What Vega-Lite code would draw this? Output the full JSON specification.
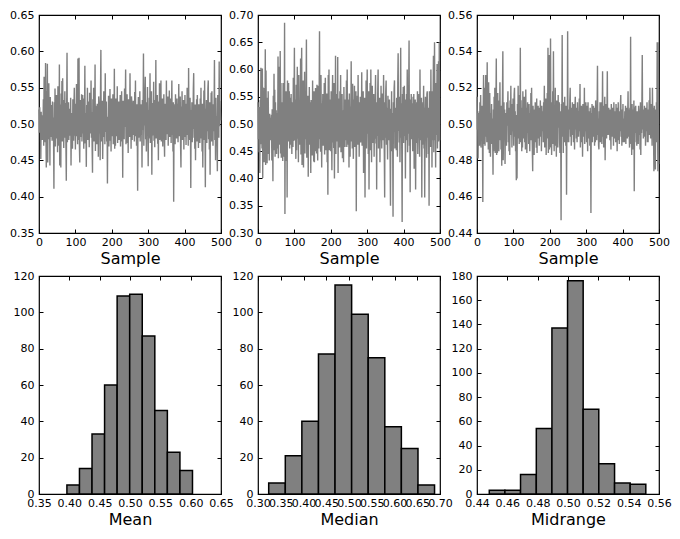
{
"$schema": "https://vega.github.io/schema/vega-lite/v6.json",
"background": "white",
"padding": {"left": 8, "top": 8, "right": 5, "bottom": 5},
"config": {
  "view": {"stroke": "black", "strokeWidth": 1.2},
  "axis": {"grid": false, "domain": false, "tickColor": "black", "tickSize": -4, "tickWidth": 1, "labelColor": "black", "labelFont": "DejaVu Sans", "labelFontSize": 11, "labelPadding": 9, "labelOverlap": false, "labelFlush": false, "labelBound": false, "titleFont": "DejaVu Sans", "titleFontSize": 16, "titleFontWeight": "normal", "titleColor": "black", "titlePadding": 4},
  "axisX": {"labelPadding": 7, "titlePadding": 3}
},
"datasets": {
"hm": [{"lo":0.396,"hi":0.4167,"n":5},{"lo":0.4167,"hi":0.4374,"n":14},{"lo":0.4374,"hi":0.4581,"n":33},{"lo":0.4581,"hi":0.4788,"n":60},{"lo":0.4788,"hi":0.4995,"n":109},{"lo":0.4995,"hi":0.5202,"n":110},{"lo":0.5202,"hi":0.5409,"n":87},{"lo":0.5409,"hi":0.5616,"n":46},{"lo":0.5616,"hi":0.5823,"n":23},{"lo":0.5823,"hi":0.603,"n":13}],
"hd": [{"lo":0.3235,"hi":0.36,"n":6},{"lo":0.36,"hi":0.3964,"n":21},{"lo":0.3964,"hi":0.4329,"n":40},{"lo":0.4329,"hi":0.4693,"n":77},{"lo":0.4693,"hi":0.5058,"n":115},{"lo":0.5058,"hi":0.5422,"n":99},{"lo":0.5422,"hi":0.5787,"n":75},{"lo":0.5787,"hi":0.6151,"n":37},{"lo":0.6151,"hi":0.6516,"n":25},{"lo":0.6516,"hi":0.688,"n":5}],
"hr": [{"lo":0.4481,"hi":0.4584,"n":3},{"lo":0.4584,"hi":0.4687,"n":3},{"lo":0.4687,"hi":0.4791,"n":16},{"lo":0.4791,"hi":0.4894,"n":54},{"lo":0.4894,"hi":0.4997,"n":137},{"lo":0.4997,"hi":0.51,"n":176},{"lo":0.51,"hi":0.5203,"n":70},{"lo":0.5203,"hi":0.5307,"n":25},{"lo":0.5307,"hi":0.541,"n":9},{"lo":0.541,"hi":0.5513,"n":8}],
"s": [
{"i":0,"a":0.520,"b":0.540,"c":0.515},{"i":1,"a":0.488,"b":0.472,"c":0.497},{"i":2,"a":0.523,"b":0.531,"c":0.502},{"i":3,"a":0.495,"b":0.448,"c":0.481},{"i":4,"a":0.511,"b":0.505,"c":0.506},
{"i":5,"a":0.452,"b":0.410,"c":0.493},{"i":6,"a":0.517,"b":0.544,"c":0.507},{"i":7,"a":0.490,"b":0.463,"c":0.488},{"i":8,"a":0.506,"b":0.603,"c":0.512},{"i":9,"a":0.478,"b":0.488,"c":0.496},
{"i":10,"a":0.512,"b":0.525,"c":0.516},{"i":11,"a":0.496,"b":0.455,"c":0.487},{"i":12,"a":0.534,"b":0.602,"c":0.504},{"i":13,"a":0.470,"b":0.401,"c":0.491},{"i":14,"a":0.565,"b":0.567,"c":0.510},
{"i":15,"a":0.492,"b":0.478,"c":0.495},{"i":16,"a":0.528,"b":0.512,"c":0.457},{"i":17,"a":0.475,"b":0.430,"c":0.505},{"i":18,"a":0.584,"b":0.566,"c":0.527},{"i":19,"a":0.488,"b":0.456,"c":0.489},
{"i":20,"a":0.440,"b":0.637,"c":0.496},{"i":21,"a":0.545,"b":0.425,"c":0.520},{"i":22,"a":0.501,"b":0.598,"c":0.488},{"i":23,"a":0.583,"b":0.470,"c":0.511},{"i":24,"a":0.447,"b":0.548,"c":0.527},
{"i":25,"a":0.530,"b":0.428,"c":0.493},{"i":26,"a":0.479,"b":0.522,"c":0.503},{"i":27,"a":0.556,"b":0.445,"c":0.490},{"i":28,"a":0.493,"b":0.560,"c":0.534},{"i":29,"a":0.515,"b":0.486,"c":0.495},
{"i":30,"a":0.443,"b":0.513,"c":0.509},{"i":31,"a":0.537,"b":0.433,"c":0.486},{"i":32,"a":0.482,"b":0.519,"c":0.523},{"i":33,"a":0.526,"b":0.472,"c":0.500},{"i":34,"a":0.498,"b":0.511,"c":0.484},
{"i":35,"a":0.512,"b":0.470,"c":0.517},{"i":36,"a":0.477,"b":0.508,"c":0.498},{"i":37,"a":0.531,"b":0.517,"c":0.482},{"i":38,"a":0.488,"b":0.433,"c":0.506},{"i":39,"a":0.509,"b":0.527,"c":0.492},
{"i":40,"a":0.478,"b":0.478,"c":0.511},{"i":41,"a":0.411,"b":0.395,"c":0.489},{"i":42,"a":0.530,"b":0.552,"c":0.503},{"i":43,"a":0.485,"b":0.475,"c":0.495},{"i":44,"a":0.549,"b":0.592,"c":0.472},
{"i":45,"a":0.469,"b":0.452,"c":0.508},{"i":46,"a":0.515,"b":0.563,"c":0.485},{"i":47,"a":0.480,"b":0.440,"c":0.515},{"i":48,"a":0.540,"b":0.540,"c":0.493},{"i":49,"a":0.493,"b":0.470,"c":0.520},
{"i":50,"a":0.524,"b":0.525,"c":0.484},{"i":51,"a":0.461,"b":0.445,"c":0.499},{"i":52,"a":0.552,"b":0.480,"c":0.510},{"i":53,"a":0.486,"b":0.520,"c":0.536},{"i":54,"a":0.511,"b":0.455,"c":0.483},
{"i":55,"a":0.470,"b":0.624,"c":0.505},{"i":56,"a":0.582,"b":0.437,"c":0.484},{"i":57,"a":0.443,"b":0.605,"c":0.517},{"i":58,"a":0.527,"b":0.462,"c":0.490},{"i":59,"a":0.497,"b":0.540,"c":0.509},
{"i":60,"a":0.440,"b":0.480,"c":0.485},{"i":61,"a":0.542,"b":0.634,"c":0.513},{"i":62,"a":0.502,"b":0.446,"c":0.496},{"i":63,"a":0.559,"b":0.575,"c":0.523},{"i":64,"a":0.476,"b":0.438,"c":0.491},
{"i":65,"a":0.563,"b":0.540,"c":0.504},{"i":66,"a":0.492,"b":0.470,"c":0.486},{"i":67,"a":0.533,"b":0.520,"c":0.510},{"i":68,"a":0.467,"b":0.432,"c":0.477},{"i":69,"a":0.518,"b":0.575,"c":0.503},
{"i":70,"a":0.489,"b":0.440,"c":0.515},{"i":71,"a":0.545,"b":0.548,"c":0.540},{"i":72,"a":0.481,"b":0.465,"c":0.480},{"i":73,"a":0.529,"b":0.686,"c":0.497},{"i":74,"a":0.470,"b":0.335,"c":0.512},
{"i":75,"a":0.422,"b":0.530,"c":0.491},{"i":76,"a":0.518,"b":0.470,"c":0.508},{"i":77,"a":0.598,"b":0.560,"c":0.478},{"i":78,"a":0.475,"b":0.432,"c":0.502},{"i":79,"a":0.512,"b":0.548,"c":0.494},
{"i":80,"a":0.496,"b":0.365,"c":0.506},{"i":81,"a":0.530,"b":0.580,"c":0.488},{"i":82,"a":0.478,"b":0.490,"c":0.512},{"i":83,"a":0.509,"b":0.468,"c":0.499},{"i":84,"a":0.484,"b":0.575,"c":0.507},
{"i":85,"a":0.521,"b":0.478,"c":0.518},{"i":86,"a":0.492,"b":0.560,"c":0.490},{"i":87,"a":0.536,"b":0.455,"c":0.503},{"i":88,"a":0.443,"b":0.548,"c":0.485},{"i":89,"a":0.507,"b":0.476,"c":0.509},
{"i":90,"a":0.480,"b":0.462,"c":0.483},{"i":91,"a":0.515,"b":0.555,"c":0.513},{"i":92,"a":0.466,"b":0.490,"c":0.496},{"i":93,"a":0.534,"b":0.445,"c":0.521},{"i":94,"a":0.500,"b":0.540,"c":0.494},
{"i":95,"a":0.477,"b":0.496,"c":0.505},{"i":96,"a":0.523,"b":0.458,"c":0.487},{"i":97,"a":0.550,"b":0.585,"c":0.511},{"i":98,"a":0.484,"b":0.469,"c":0.496},{"i":99,"a":0.512,"b":0.535,"c":0.514},
{"i":100,"a":0.465,"b":0.640,"c":0.501},{"i":101,"a":0.528,"b":0.470,"c":0.488},{"i":102,"a":0.497,"b":0.545,"c":0.516},{"i":103,"a":0.555,"b":0.480,"c":0.520},{"i":104,"a":0.483,"b":0.436,"c":0.493},
{"i":105,"a":0.520,"b":0.572,"c":0.507},{"i":106,"a":0.472,"b":0.452,"c":0.485},{"i":107,"a":0.590,"b":0.520,"c":0.498},{"i":108,"a":0.478,"b":0.605,"c":0.469},{"i":109,"a":0.536,"b":0.473,"c":0.505},
{"i":110,"a":0.591,"b":0.548,"c":0.470},{"i":111,"a":0.471,"b":0.430,"c":0.511},{"i":112,"a":0.447,"b":0.590,"c":0.492},{"i":113,"a":0.533,"b":0.486,"c":0.521},{"i":114,"a":0.496,"b":0.533,"c":0.497},
{"i":115,"a":0.515,"b":0.462,"c":0.516},{"i":116,"a":0.482,"b":0.505,"c":0.489},{"i":117,"a":0.541,"b":0.620,"c":0.506},{"i":118,"a":0.476,"b":0.444,"c":0.495},{"i":119,"a":0.508,"b":0.558,"c":0.542},
{"i":120,"a":0.540,"b":0.640,"c":0.490},{"i":121,"a":0.487,"b":0.425,"c":0.513},{"i":122,"a":0.522,"b":0.515,"c":0.496},{"i":123,"a":0.466,"b":0.468,"c":0.485},{"i":124,"a":0.535,"b":0.580,"c":0.509},
{"i":125,"a":0.497,"b":0.420,"c":0.487},{"i":126,"a":0.580,"b":0.528,"c":0.518},{"i":127,"a":0.473,"b":0.480,"c":0.500},{"i":128,"a":0.515,"b":0.596,"c":0.492},{"i":129,"a":0.490,"b":0.446,"c":0.511},
{"i":130,"a":0.441,"b":0.523,"c":0.515},{"i":131,"a":0.526,"b":0.472,"c":0.490},{"i":132,"a":0.486,"b":0.545,"c":0.503},{"i":133,"a":0.550,"b":0.655,"c":0.486},{"i":134,"a":0.478,"b":0.438,"c":0.519},
{"i":135,"a":0.531,"b":0.518,"c":0.497},{"i":136,"a":0.495,"b":0.470,"c":0.509},{"i":137,"a":0.512,"b":0.552,"c":0.484},{"i":138,"a":0.468,"b":0.403,"c":0.502},{"i":139,"a":0.543,"b":0.530,"c":0.512},
{"i":140,"a":0.487,"b":0.473,"c":0.495},{"i":141,"a":0.520,"b":0.568,"c":0.507},{"i":142,"a":0.499,"b":0.462,"c":0.489},{"i":143,"a":0.560,"b":0.540,"c":0.511},{"i":144,"a":0.481,"b":0.486,"c":0.496},
{"i":145,"a":0.516,"b":0.410,"c":0.485},{"i":146,"a":0.467,"b":0.544,"c":0.506},{"i":147,"a":0.433,"b":0.475,"c":0.493},{"i":148,"a":0.534,"b":0.505,"c":0.517},{"i":149,"a":0.488,"b":0.442,"c":0.491},
{"i":150,"a":0.550,"b":0.580,"c":0.520},{"i":151,"a":0.476,"b":0.468,"c":0.498},{"i":152,"a":0.510,"b":0.520,"c":0.486},{"i":153,"a":0.493,"b":0.431,"c":0.474},{"i":154,"a":0.582,"b":0.560,"c":0.510},
{"i":155,"a":0.463,"b":0.430,"c":0.492},{"i":156,"a":0.525,"b":0.515,"c":0.504},{"i":157,"a":0.484,"b":0.477,"c":0.483},{"i":158,"a":0.507,"b":0.566,"c":0.508},{"i":159,"a":0.472,"b":0.450,"c":0.495},
{"i":160,"a":0.528,"b":0.510,"c":0.512},{"i":161,"a":0.496,"b":0.446,"c":0.490},{"i":162,"a":0.517,"b":0.572,"c":0.503},{"i":163,"a":0.455,"b":0.485,"c":0.487},{"i":164,"a":0.538,"b":0.433,"c":0.514},
{"i":165,"a":0.530,"b":0.570,"c":0.484},{"i":166,"a":0.487,"b":0.498,"c":0.507},{"i":167,"a":0.512,"b":0.455,"c":0.495},{"i":168,"a":0.450,"b":0.548,"c":0.510},{"i":169,"a":0.543,"b":0.670,"c":0.492},
{"i":170,"a":0.602,"b":0.472,"c":0.503},{"i":171,"a":0.476,"b":0.531,"c":0.488},{"i":172,"a":0.520,"b":0.449,"c":0.509},{"i":173,"a":0.494,"b":0.590,"c":0.497},{"i":174,"a":0.532,"b":0.488,"c":0.513},
{"i":175,"a":0.452,"b":0.420,"c":0.493},{"i":176,"a":0.509,"b":0.538,"c":0.505},{"i":177,"a":0.488,"b":0.476,"c":0.485},{"i":178,"a":0.545,"b":0.555,"c":0.510},{"i":179,"a":0.482,"b":0.460,"c":0.499},
{"i":180,"a":0.519,"b":0.525,"c":0.496},{"i":181,"a":0.472,"b":0.468,"c":0.507},{"i":182,"a":0.570,"b":0.575,"c":0.490},{"i":183,"a":0.489,"b":0.444,"c":0.512},{"i":184,"a":0.527,"b":0.540,"c":0.501},
{"i":185,"a":0.531,"b":0.585,"c":0.521},{"i":186,"a":0.476,"b":0.452,"c":0.487},{"i":187,"a":0.510,"b":0.519,"c":0.509},{"i":188,"a":0.418,"b":0.475,"c":0.495},{"i":189,"a":0.506,"b":0.556,"c":0.514},
{"i":190,"a":0.485,"b":0.430,"c":0.483},{"i":191,"a":0.539,"b":0.525,"c":0.508},{"i":192,"a":0.469,"b":0.370,"c":0.492},{"i":193,"a":0.522,"b":0.590,"c":0.517},{"i":194,"a":0.494,"b":0.480,"c":0.497},
{"i":195,"a":0.548,"b":0.600,"c":0.542},{"i":196,"a":0.477,"b":0.452,"c":0.484},{"i":197,"a":0.509,"b":0.535,"c":0.511},{"i":198,"a":0.462,"b":0.470,"c":0.538},{"i":199,"a":0.535,"b":0.545,"c":0.486},
{"i":200,"a":0.496,"b":0.450,"c":0.503},{"i":201,"a":0.518,"b":0.560,"c":0.487},{"i":202,"a":0.483,"b":0.489,"c":0.547},{"i":203,"a":0.541,"b":0.415,"c":0.495},{"i":204,"a":0.472,"b":0.542,"c":0.512},
{"i":205,"a":0.515,"b":0.590,"c":0.483},{"i":206,"a":0.490,"b":0.466,"c":0.506},{"i":207,"a":0.576,"b":0.528,"c":0.492},{"i":208,"a":0.466,"b":0.456,"c":0.518},{"i":209,"a":0.524,"b":0.575,"c":0.489},
{"i":210,"a":0.470,"b":0.400,"c":0.540},{"i":211,"a":0.535,"b":0.530,"c":0.496},{"i":212,"a":0.497,"b":0.482,"c":0.485},{"i":213,"a":0.528,"b":0.625,"c":0.510},{"i":214,"a":0.483,"b":0.445,"c":0.497},
{"i":215,"a":0.552,"b":0.555,"c":0.520},{"i":216,"a":0.474,"b":0.490,"c":0.488},{"i":217,"a":0.515,"b":0.540,"c":0.507},{"i":218,"a":0.490,"b":0.468,"c":0.482},{"i":219,"a":0.531,"b":0.623,"c":0.513},
{"i":220,"a":0.478,"b":0.410,"c":0.494},{"i":221,"a":0.524,"b":0.547,"c":0.509},{"i":222,"a":0.496,"b":0.473,"c":0.487},{"i":223,"a":0.540,"b":0.515,"c":0.516},{"i":224,"a":0.469,"b":0.457,"c":0.498},
{"i":225,"a":0.512,"b":0.560,"c":0.503},{"i":226,"a":0.487,"b":0.495,"c":0.512},{"i":227,"a":0.545,"b":0.590,"c":0.490},{"i":228,"a":0.476,"b":0.448,"c":0.484},{"i":229,"a":0.520,"b":0.530,"c":0.507},
{"i":230,"a":0.426,"b":0.475,"c":0.497},{"i":231,"a":0.532,"b":0.555,"c":0.447},{"i":232,"a":0.493,"b":0.437,"c":0.511},{"i":233,"a":0.515,"b":0.525,"c":0.496},{"i":234,"a":0.479,"b":0.487,"c":0.549},
{"i":235,"a":0.549,"b":0.430,"c":0.493},{"i":236,"a":0.496,"b":0.568,"c":0.508},{"i":237,"a":0.523,"b":0.478,"c":0.484},{"i":238,"a":0.575,"b":0.525,"c":0.512},{"i":239,"a":0.472,"b":0.458,"c":0.500},
{"i":240,"a":0.516,"b":0.545,"c":0.490},{"i":241,"a":0.488,"b":0.470,"c":0.515},{"i":242,"a":0.541,"b":0.520,"c":0.497},{"i":243,"a":0.474,"b":0.580,"c":0.506},{"i":244,"a":0.523,"b":0.458,"c":0.488},
{"i":245,"a":0.460,"b":0.600,"c":0.510},{"i":246,"a":0.534,"b":0.493,"c":0.461},{"i":247,"a":0.491,"b":0.545,"c":0.503},{"i":248,"a":0.513,"b":0.462,"c":0.490},{"i":249,"a":0.482,"b":0.530,"c":0.551},
{"i":250,"a":0.570,"b":0.420,"c":0.495},{"i":251,"a":0.497,"b":0.556,"c":0.508},{"i":252,"a":0.520,"b":0.485,"c":0.490},{"i":253,"a":0.466,"b":0.440,"c":0.505},{"i":254,"a":0.538,"b":0.532,"c":0.497},
{"i":255,"a":0.530,"b":0.473,"c":0.513},{"i":256,"a":0.478,"b":0.615,"c":0.520},{"i":257,"a":0.515,"b":0.468,"c":0.493},{"i":258,"a":0.493,"b":0.527,"c":0.504},{"i":259,"a":0.532,"b":0.455,"c":0.488},
{"i":260,"a":0.485,"b":0.574,"c":0.509},{"i":261,"a":0.522,"b":0.490,"c":0.497},{"i":262,"a":0.476,"b":0.436,"c":0.512},{"i":263,"a":0.544,"b":0.545,"c":0.494},{"i":264,"a":0.499,"b":0.478,"c":0.505},
{"i":265,"a":0.560,"b":0.570,"c":0.490},{"i":266,"a":0.483,"b":0.458,"c":0.511},{"i":267,"a":0.516,"b":0.520,"c":0.499},{"i":268,"a":0.470,"b":0.488,"c":0.486},{"i":269,"a":0.527,"b":0.560,"c":0.508},
{"i":270,"a":0.490,"b":0.340,"c":0.515},{"i":271,"a":0.408,"b":0.525,"c":0.497},{"i":272,"a":0.512,"b":0.470,"c":0.509},{"i":273,"a":0.537,"b":0.552,"c":0.492},{"i":274,"a":0.481,"b":0.462,"c":0.503},
{"i":275,"a":0.520,"b":0.590,"c":0.490},{"i":276,"a":0.495,"b":0.484,"c":0.512},{"i":277,"a":0.545,"b":0.540,"c":0.498},{"i":278,"a":0.476,"b":0.440,"c":0.507},{"i":279,"a":0.509,"b":0.528,"c":0.493},
{"i":280,"a":0.527,"b":0.485,"c":0.501},{"i":281,"a":0.485,"b":0.550,"c":0.514},{"i":282,"a":0.516,"b":0.466,"c":0.496},{"i":283,"a":0.440,"b":0.530,"c":0.522},{"i":284,"a":0.533,"b":0.495,"c":0.487},
{"i":285,"a":0.492,"b":0.595,"c":0.508},{"i":286,"a":0.518,"b":0.460,"c":0.495},{"i":287,"a":0.597,"b":0.518,"c":0.510},{"i":288,"a":0.470,"b":0.477,"c":0.490},{"i":289,"a":0.525,"b":0.560,"c":0.503},
{"i":290,"a":0.498,"b":0.410,"c":0.482},{"i":291,"a":0.542,"b":0.535,"c":0.511},{"i":292,"a":0.565,"b":0.487,"c":0.497},{"i":293,"a":0.479,"b":0.548,"c":0.506},{"i":294,"a":0.514,"b":0.365,"c":0.493},
{"i":295,"a":0.462,"b":0.520,"c":0.520},{"i":296,"a":0.530,"b":0.470,"c":0.489},{"i":297,"a":0.487,"b":0.580,"c":0.505},{"i":298,"a":0.551,"b":0.455,"c":0.496},{"i":299,"a":0.494,"b":0.537,"c":0.512},
{"i":300,"a":0.442,"b":0.600,"c":0.502},{"i":301,"a":0.519,"b":0.482,"c":0.490},{"i":302,"a":0.480,"b":0.528,"c":0.510},{"i":303,"a":0.536,"b":0.445,"c":0.497},{"i":304,"a":0.497,"b":0.560,"c":0.485},
{"i":305,"a":0.570,"b":0.380,"c":0.512},{"i":306,"a":0.474,"b":0.513,"c":0.498},{"i":307,"a":0.521,"b":0.470,"c":0.507},{"i":308,"a":0.489,"b":0.575,"c":0.492},{"i":309,"a":0.545,"b":0.452,"c":0.503},
{"i":310,"a":0.430,"b":0.600,"c":0.488},{"i":311,"a":0.512,"b":0.497,"c":0.509},{"i":312,"a":0.484,"b":0.430,"c":0.500},{"i":313,"a":0.529,"b":0.544,"c":0.451},{"i":314,"a":0.495,"b":0.570,"c":0.506},
{"i":315,"a":0.558,"b":0.465,"c":0.494},{"i":316,"a":0.477,"b":0.520,"c":0.511},{"i":317,"a":0.514,"b":0.485,"c":0.490},{"i":318,"a":0.468,"b":0.555,"c":0.505},{"i":319,"a":0.533,"b":0.440,"c":0.497},
{"i":320,"a":0.491,"b":0.510,"c":0.510},{"i":321,"a":0.588,"b":0.473,"c":0.493},{"i":322,"a":0.480,"b":0.548,"c":0.503},{"i":323,"a":0.522,"b":0.590,"c":0.488},{"i":324,"a":0.500,"b":0.464,"c":0.509},
{"i":325,"a":0.540,"b":0.523,"c":0.490},{"i":326,"a":0.473,"b":0.380,"c":0.513},{"i":327,"a":0.517,"b":0.540,"c":0.497},{"i":328,"a":0.450,"b":0.478,"c":0.505},{"i":329,"a":0.531,"b":0.562,"c":0.491},
{"i":330,"a":0.489,"b":0.600,"c":0.508},{"i":331,"a":0.556,"b":0.455,"c":0.532},{"i":332,"a":0.478,"b":0.530,"c":0.494},{"i":333,"a":0.513,"b":0.487,"c":0.503},{"i":334,"a":0.494,"b":0.548,"c":0.488},
{"i":335,"a":0.560,"b":0.430,"c":0.486},{"i":336,"a":0.476,"b":0.515,"c":0.507},{"i":337,"a":0.520,"b":0.470,"c":0.496},{"i":338,"a":0.487,"b":0.570,"c":0.512},{"i":339,"a":0.535,"b":0.496,"c":0.490},
{"i":340,"a":0.469,"b":0.455,"c":0.505},{"i":341,"a":0.518,"b":0.556,"c":0.497},{"i":342,"a":0.496,"b":0.482,"c":0.512},{"i":343,"a":0.541,"b":0.525,"c":0.489},{"i":344,"a":0.481,"b":0.470,"c":0.503},
{"i":345,"a":0.455,"b":0.590,"c":0.529},{"i":346,"a":0.528,"b":0.495,"c":0.493},{"i":347,"a":0.492,"b":0.447,"c":0.510},{"i":348,"a":0.515,"b":0.365,"c":0.487},{"i":349,"a":0.478,"b":0.540,"c":0.506},
{"i":350,"a":0.560,"b":0.475,"c":0.498},{"i":351,"a":0.486,"b":0.560,"c":0.515},{"i":352,"a":0.523,"b":0.580,"c":0.480},{"i":353,"a":0.497,"b":0.462,"c":0.503},{"i":354,"a":0.538,"b":0.530,"c":0.496},
{"i":355,"a":0.470,"b":0.490,"c":0.511},{"i":356,"a":0.512,"b":0.435,"c":0.492},{"i":357,"a":0.488,"b":0.552,"c":0.504},{"i":358,"a":0.546,"b":0.470,"c":0.529},{"i":359,"a":0.482,"b":0.520,"c":0.494},
{"i":360,"a":0.519,"b":0.470,"c":0.505},{"i":361,"a":0.496,"b":0.545,"c":0.497},{"i":362,"a":0.535,"b":0.492,"c":0.509},{"i":363,"a":0.474,"b":0.438,"c":0.494},{"i":364,"a":0.510,"b":0.350,"c":0.503},
{"i":365,"a":0.560,"b":0.528,"c":0.491},{"i":366,"a":0.485,"b":0.480,"c":0.508},{"i":367,"a":0.521,"b":0.560,"c":0.499},{"i":368,"a":0.462,"b":0.450,"c":0.486},{"i":369,"a":0.530,"b":0.520,"c":0.511},
{"i":370,"a":0.393,"b":0.472,"c":0.497},{"i":371,"a":0.508,"b":0.330,"c":0.506},{"i":372,"a":0.488,"b":0.540,"c":0.493},{"i":373,"a":0.527,"b":0.485,"c":0.509},{"i":374,"a":0.472,"b":0.565,"c":0.500},
{"i":375,"a":0.541,"b":0.580,"c":0.488},{"i":376,"a":0.499,"b":0.455,"c":0.512},{"i":377,"a":0.517,"b":0.530,"c":0.496},{"i":378,"a":0.480,"b":0.475,"c":0.505},{"i":379,"a":0.535,"b":0.510,"c":0.492},
{"i":380,"a":0.494,"b":0.452,"c":0.507},{"i":381,"a":0.528,"b":0.548,"c":0.490},{"i":382,"a":0.475,"b":0.493,"c":0.511},{"i":383,"a":0.514,"b":0.440,"c":0.498},{"i":384,"a":0.555,"b":0.575,"c":0.506},
{"i":385,"a":0.483,"b":0.630,"c":0.485},{"i":386,"a":0.520,"b":0.487,"c":0.509},{"i":387,"a":0.497,"b":0.535,"c":0.495},{"i":388,"a":0.538,"b":0.466,"c":0.512},{"i":389,"a":0.469,"b":0.550,"c":0.491},
{"i":390,"a":0.440,"b":0.430,"c":0.503},{"i":391,"a":0.524,"b":0.520,"c":0.489},{"i":392,"a":0.490,"b":0.640,"c":0.507},{"i":393,"a":0.545,"b":0.475,"c":0.496},{"i":394,"a":0.478,"b":0.538,"c":0.510},
{"i":395,"a":0.512,"b":0.445,"c":0.516},{"i":396,"a":0.487,"b":0.320,"c":0.493},{"i":397,"a":0.533,"b":0.555,"c":0.505},{"i":398,"a":0.465,"b":0.490,"c":0.488},{"i":399,"a":0.519,"b":0.568,"c":0.508},
{"i":400,"a":0.496,"b":0.465,"c":0.497},{"i":401,"a":0.540,"b":0.532,"c":0.511},{"i":402,"a":0.482,"b":0.570,"c":0.490},{"i":403,"a":0.516,"b":0.478,"c":0.503},{"i":404,"a":0.471,"b":0.545,"c":0.494},
{"i":405,"a":0.528,"b":0.400,"c":0.490},{"i":406,"a":0.497,"b":0.520,"c":0.507},{"i":407,"a":0.550,"b":0.470,"c":0.498},{"i":408,"a":0.485,"b":0.555,"c":0.510},{"i":409,"a":0.513,"b":0.493,"c":0.489},
{"i":410,"a":0.470,"b":0.600,"c":0.505},{"i":411,"a":0.577,"b":0.448,"c":0.496},{"i":412,"a":0.491,"b":0.530,"c":0.509},{"i":413,"a":0.522,"b":0.482,"c":0.492},{"i":414,"a":0.478,"b":0.560,"c":0.504},
{"i":415,"a":0.536,"b":0.653,"c":0.518},{"i":416,"a":0.500,"b":0.460,"c":0.493},{"i":417,"a":0.412,"b":0.525,"c":0.508},{"i":418,"a":0.519,"b":0.375,"c":0.497},{"i":419,"a":0.486,"b":0.545,"c":0.487},
{"i":420,"a":0.530,"b":0.480,"c":0.509},{"i":421,"a":0.475,"b":0.555,"c":0.492},{"i":422,"a":0.512,"b":0.472,"c":0.548},{"i":423,"a":0.493,"b":0.538,"c":0.489},{"i":424,"a":0.548,"b":0.495,"c":0.506},
{"i":425,"a":0.570,"b":0.450,"c":0.483},{"i":426,"a":0.481,"b":0.550,"c":0.511},{"i":427,"a":0.517,"b":0.470,"c":0.496},{"i":428,"a":0.466,"b":0.555,"c":0.486},{"i":429,"a":0.527,"b":0.418,"c":0.508},
{"i":430,"a":0.450,"b":0.530,"c":0.494},{"i":431,"a":0.509,"b":0.487,"c":0.513},{"i":432,"a":0.488,"b":0.545,"c":0.463},{"i":433,"a":0.534,"b":0.380,"c":0.505},{"i":434,"a":0.476,"b":0.512,"c":0.490},
{"i":435,"a":0.540,"b":0.465,"c":0.509},{"i":436,"a":0.495,"b":0.540,"c":0.510},{"i":437,"a":0.520,"b":0.478,"c":0.495},{"i":438,"a":0.467,"b":0.560,"c":0.503},{"i":439,"a":0.527,"b":0.445,"c":0.488},
{"i":440,"a":0.489,"b":0.520,"c":0.507},{"i":441,"a":0.514,"b":0.475,"c":0.493},{"i":442,"a":0.474,"b":0.555,"c":0.505},{"i":443,"a":0.535,"b":0.490,"c":0.489},{"i":444,"a":0.497,"b":0.440,"c":0.510},
{"i":445,"a":0.550,"b":0.600,"c":0.507},{"i":446,"a":0.480,"b":0.470,"c":0.494},{"i":447,"a":0.518,"b":0.535,"c":0.503},{"i":448,"a":0.462,"b":0.480,"c":0.486},{"i":449,"a":0.528,"b":0.548,"c":0.512},
{"i":450,"a":0.440,"b":0.365,"c":0.483},{"i":451,"a":0.509,"b":0.525,"c":0.506},{"i":452,"a":0.492,"b":0.462,"c":0.495},{"i":453,"a":0.546,"b":0.540,"c":0.510},{"i":454,"a":0.478,"b":0.488,"c":0.538},
{"i":455,"a":0.560,"b":0.570,"c":0.497},{"i":456,"a":0.496,"b":0.455,"c":0.508},{"i":457,"a":0.413,"b":0.530,"c":0.492},{"i":458,"a":0.521,"b":0.365,"c":0.505},{"i":459,"a":0.486,"b":0.512,"c":0.494},
{"i":460,"a":0.533,"b":0.550,"c":0.510},{"i":461,"a":0.474,"b":0.470,"c":0.493},{"i":462,"a":0.515,"b":0.520,"c":0.506},{"i":463,"a":0.490,"b":0.438,"c":0.488},{"i":464,"a":0.548,"b":0.555,"c":0.509},
{"i":465,"a":0.560,"b":0.560,"c":0.507},{"i":466,"a":0.479,"b":0.475,"c":0.496},{"i":467,"a":0.521,"b":0.530,"c":0.512},{"i":468,"a":0.465,"b":0.445,"c":0.490},{"i":469,"a":0.530,"b":0.515,"c":0.502},
{"i":470,"a":0.430,"b":0.350,"c":0.490},{"i":471,"a":0.512,"b":0.560,"c":0.508},{"i":472,"a":0.488,"b":0.482,"c":0.497},{"i":473,"a":0.543,"b":0.540,"c":0.513},{"i":474,"a":0.476,"b":0.458,"c":0.494},
{"i":475,"a":0.545,"b":0.600,"c":0.520},{"i":476,"a":0.498,"b":0.495,"c":0.504},{"i":477,"a":0.519,"b":0.545,"c":0.492},{"i":478,"a":0.470,"b":0.420,"c":0.511},{"i":479,"a":0.527,"b":0.560,"c":0.496},
{"i":480,"a":0.490,"b":0.470,"c":0.505},{"i":481,"a":0.515,"b":0.540,"c":0.488},{"i":482,"a":0.588,"b":0.625,"c":0.520},{"i":483,"a":0.478,"b":0.448,"c":0.497},{"i":484,"a":0.522,"b":0.560,"c":0.509},
{"i":485,"a":0.450,"b":0.650,"c":0.493},{"i":486,"a":0.536,"b":0.470,"c":0.474},{"i":487,"a":0.494,"b":0.540,"c":0.510},{"i":488,"a":0.511,"b":0.420,"c":0.495},{"i":489,"a":0.475,"b":0.575,"c":0.505},
{"i":490,"a":0.435,"b":0.480,"c":0.475},{"i":491,"a":0.540,"b":0.525,"c":0.508},{"i":492,"a":0.496,"b":0.610,"c":0.497},{"i":493,"a":0.528,"b":0.455,"c":0.512},{"i":494,"a":0.481,"b":0.560,"c":0.490},
{"i":495,"a":0.586,"b":0.470,"c":0.545},{"i":496,"a":0.497,"b":0.615,"c":0.498},{"i":497,"a":0.532,"b":0.468,"c":0.474},{"i":498,"a":0.520,"b":0.650,"c":0.545},{"i":499,"a":0.505,"b":0.470,"c":0.478}
]
},
"columns": 3,
"bounds": "flush",
"spacing": {"row": 43, "column": 37},
"concat": [
 {"width": 182, "height": 218, "data": {"name": "s"}, "resolve": {"axis": {"x": "independent", "y": "independent"}}, "layer": [
  {"mark": {"type": "line", "color": "#808080", "strokeWidth": 1.4}, "encoding": {
   "x": {"field": "i", "type": "quantitative", "scale": {"domain": [0, 500], "nice": false, "zero": false}, "axis": {"values": [0, 100, 200, 300, 400, 500], "format": "d", "title": "Sample"}},
   "y": {"field": "a", "type": "quantitative", "scale": {"domain": [0.35, 0.65], "nice": false, "zero": false}, "axis": {"values": [0.35, 0.4, 0.45, 0.5, 0.55, 0.6, 0.65], "format": ".2f", "title": null}}}},
  {"mark": {"type": "line", "opacity": 0}, "encoding": {
   "x": {"field": "i", "type": "quantitative", "axis": {"orient": "top", "values": [0, 100, 200, 300, 400, 500], "labels": false, "title": null}},
   "y": {"field": "a", "type": "quantitative", "axis": {"orient": "right", "values": [0.35, 0.4, 0.45, 0.5, 0.55, 0.6, 0.65], "labels": false, "title": null}}}}
 ]},
 {"width": 182, "height": 218, "data": {"name": "s"}, "resolve": {"axis": {"x": "independent", "y": "independent"}}, "layer": [
  {"mark": {"type": "line", "color": "#808080", "strokeWidth": 1.4}, "encoding": {
   "x": {"field": "i", "type": "quantitative", "scale": {"domain": [0, 500], "nice": false, "zero": false}, "axis": {"values": [0, 100, 200, 300, 400, 500], "format": "d", "title": "Sample"}},
   "y": {"field": "b", "type": "quantitative", "scale": {"domain": [0.3, 0.7], "nice": false, "zero": false}, "axis": {"values": [0.3, 0.35, 0.4, 0.45, 0.5, 0.55, 0.6, 0.65, 0.7], "format": ".2f", "title": null}}}},
  {"mark": {"type": "line", "opacity": 0}, "encoding": {
   "x": {"field": "i", "type": "quantitative", "axis": {"orient": "top", "values": [0, 100, 200, 300, 400, 500], "labels": false, "title": null}},
   "y": {"field": "b", "type": "quantitative", "axis": {"orient": "right", "values": [0.3, 0.35, 0.4, 0.45, 0.5, 0.55, 0.6, 0.65, 0.7], "labels": false, "title": null}}}}
 ]},
 {"width": 182, "height": 218, "data": {"name": "s"}, "resolve": {"axis": {"x": "independent", "y": "independent"}}, "layer": [
  {"mark": {"type": "line", "color": "#808080", "strokeWidth": 1.4}, "encoding": {
   "x": {"field": "i", "type": "quantitative", "scale": {"domain": [0, 500], "nice": false, "zero": false}, "axis": {"values": [0, 100, 200, 300, 400, 500], "format": "d", "title": "Sample"}},
   "y": {"field": "c", "type": "quantitative", "scale": {"domain": [0.44, 0.56], "nice": false, "zero": false}, "axis": {"values": [0.44, 0.46, 0.48, 0.5, 0.52, 0.54, 0.56], "format": ".2f", "title": null}}}},
  {"mark": {"type": "line", "opacity": 0}, "encoding": {
   "x": {"field": "i", "type": "quantitative", "axis": {"orient": "top", "values": [0, 100, 200, 300, 400, 500], "labels": false, "title": null}},
   "y": {"field": "c", "type": "quantitative", "axis": {"orient": "right", "values": [0.44, 0.46, 0.48, 0.5, 0.52, 0.54, 0.56], "labels": false, "title": null}}}}
 ]},
 {"width": 182, "height": 218, "data": {"name": "hm"}, "resolve": {"axis": {"x": "independent", "y": "independent"}}, "layer": [
  {"mark": {"type": "rect", "fill": "#808080", "stroke": "black", "strokeWidth": 1.5}, "encoding": {
   "x": {"field": "lo", "type": "quantitative", "scale": {"domain": [0.35, 0.65], "nice": false, "zero": false}, "axis": {"values": [0.35, 0.4, 0.45, 0.5, 0.55, 0.6, 0.65], "format": ".2f", "title": "Mean"}},
   "x2": {"field": "hi"},
   "y": {"field": "n", "type": "quantitative", "scale": {"domain": [0, 120], "nice": false}, "axis": {"values": [0, 20, 40, 60, 80, 100, 120], "format": "d", "title": null}},
   "y2": {"datum": 0}}},
  {"mark": {"type": "rect", "opacity": 0}, "encoding": {
   "x": {"field": "lo", "type": "quantitative", "axis": {"orient": "top", "values": [0.35, 0.4, 0.45, 0.5, 0.55, 0.6, 0.65], "labels": false, "title": null}},
   "x2": {"field": "hi"},
   "y": {"field": "n", "type": "quantitative", "axis": {"orient": "right", "values": [0, 20, 40, 60, 80, 100, 120], "labels": false, "title": null}},
   "y2": {"datum": 0}}}
 ]},
 {"width": 182, "height": 218, "data": {"name": "hd"}, "resolve": {"axis": {"x": "independent", "y": "independent"}}, "layer": [
  {"mark": {"type": "rect", "fill": "#808080", "stroke": "black", "strokeWidth": 1.5}, "encoding": {
   "x": {"field": "lo", "type": "quantitative", "scale": {"domain": [0.3, 0.7], "nice": false, "zero": false}, "axis": {"values": [0.3, 0.35, 0.4, 0.45, 0.5, 0.55, 0.6, 0.65, 0.7], "format": ".2f", "title": "Median"}},
   "x2": {"field": "hi"},
   "y": {"field": "n", "type": "quantitative", "scale": {"domain": [0, 120], "nice": false}, "axis": {"values": [0, 20, 40, 60, 80, 100, 120], "format": "d", "title": null}},
   "y2": {"datum": 0}}},
  {"mark": {"type": "rect", "opacity": 0}, "encoding": {
   "x": {"field": "lo", "type": "quantitative", "axis": {"orient": "top", "values": [0.3, 0.35, 0.4, 0.45, 0.5, 0.55, 0.6, 0.65, 0.7], "labels": false, "title": null}},
   "x2": {"field": "hi"},
   "y": {"field": "n", "type": "quantitative", "axis": {"orient": "right", "values": [0, 20, 40, 60, 80, 100, 120], "labels": false, "title": null}},
   "y2": {"datum": 0}}}
 ]},
 {"width": 182, "height": 218, "data": {"name": "hr"}, "resolve": {"axis": {"x": "independent", "y": "independent"}}, "layer": [
  {"mark": {"type": "rect", "fill": "#808080", "stroke": "black", "strokeWidth": 1.5}, "encoding": {
   "x": {"field": "lo", "type": "quantitative", "scale": {"domain": [0.44, 0.56], "nice": false, "zero": false}, "axis": {"values": [0.44, 0.46, 0.48, 0.5, 0.52, 0.54, 0.56], "format": ".2f", "title": "Midrange"}},
   "x2": {"field": "hi"},
   "y": {"field": "n", "type": "quantitative", "scale": {"domain": [0, 180], "nice": false}, "axis": {"values": [0, 20, 40, 60, 80, 100, 120, 140, 160, 180], "format": "d", "title": null}},
   "y2": {"datum": 0}}},
  {"mark": {"type": "rect", "opacity": 0}, "encoding": {
   "x": {"field": "lo", "type": "quantitative", "axis": {"orient": "top", "values": [0.44, 0.46, 0.48, 0.5, 0.52, 0.54, 0.56], "labels": false, "title": null}},
   "x2": {"field": "hi"},
   "y": {"field": "n", "type": "quantitative", "axis": {"orient": "right", "values": [0, 20, 40, 60, 80, 100, 120, 140, 160, 180], "labels": false, "title": null}},
   "y2": {"datum": 0}}}
 ]}
]
}
